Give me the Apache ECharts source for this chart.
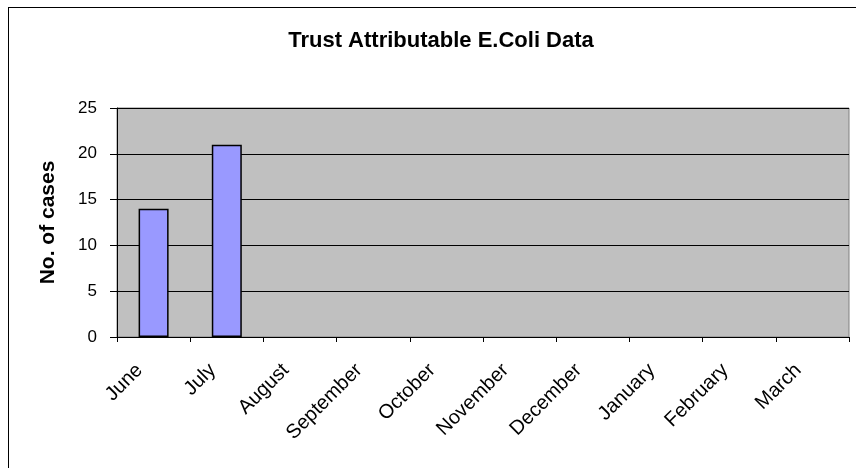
<!DOCTYPE html>
<html>
<head>
<meta charset="utf-8">
<style>
  html, body { margin: 0; padding: 0; background: #fff; }
  #chart { width: 856px; height: 468px; }
</style>
<script src="https://cdn.jsdelivr.net/npm/echarts@6/dist/echarts.min.js"></script>
</head>
<body>
<div id="chart"></div>
<script>
// Monthly E.Coli cases attributable to the Trust
const months = ['June', 'July', 'August', 'September', 'October', 'November', 'December', 'January', 'February', 'March'];
const cases = [14, 21, null, null, null, null, null, null, null, null];
const yTicks = { min: 0, max: 25, interval: 5 };

const chart = echarts.init(document.getElementById('chart'), null, { renderer: 'canvas' });
const font = 'Arial, "Liberation Sans", sans-serif';

chart.setOption({
  animation: false,
  backgroundColor: '#ffffff',
  title: {
    text: 'Trust Attributable E.Coli Data',
    left: 436,
    textAlign: 'center',
    top: 25,
    textStyle: { fontFamily: font, fontSize: 22, fontWeight: 'bold', color: '#000' }
  },
  graphic: [
    // chart-area frame (top and left edges)
    { type: 'line', shape: { x1: 8, y1: 7.5, x2: 856, y2: 7.5 }, style: { stroke: '#000', lineWidth: 1 } },
    { type: 'line', shape: { x1: 8.5, y1: 7, x2: 8.5, y2: 468 }, style: { stroke: '#000', lineWidth: 1 } }
  ],
  grid: {
    left: 117, right: 7, top: 108, bottom: 131,
    show: true, backgroundColor: '#C0C0C0', borderColor: '#808080', borderWidth: 1
  },
  xAxis: {
    type: 'category',
    data: months,
    boundaryGap: true,
    axisLine: { lineStyle: { color: '#000', width: 1 } },
    axisTick: { show: true, length: 5, lineStyle: { color: '#000' } },
    axisLabel: {
      rotate: 45, margin: 16, padding: [0, 20, 0, 0],
      fontFamily: font, fontSize: 20, color: '#000'
    },
    splitLine: { show: false }
  },
  yAxis: {
    type: 'value',
    min: yTicks.min, max: yTicks.max, interval: yTicks.interval,
    name: 'No. of cases',
    nameLocation: 'middle',
    nameGap: 58,
    nameTextStyle: { fontFamily: font, fontSize: 21, fontWeight: 'bold', color: '#000' },
    axisLine: { show: true, lineStyle: { color: '#000', width: 1 } },
    axisTick: { show: true, length: 7, lineStyle: { color: '#000' } },
    axisLabel: { margin: 20, fontFamily: font, fontSize: 17, color: '#000' },
    splitLine: { show: true, lineStyle: { color: '#000', width: 1 } }
  },
  series: [{
    type: 'bar',
    data: cases,
    barWidth: 30,
    itemStyle: { color: '#9999FF', borderColor: '#000', borderWidth: 1.5 }
  }]
});
</script>
</body>
</html>
